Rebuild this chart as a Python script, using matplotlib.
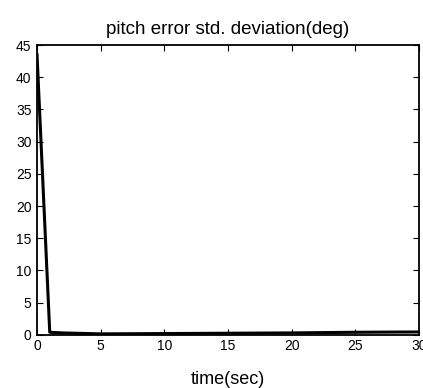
import numpy as np
import matplotlib
matplotlib.use('Agg')
import matplotlib.pyplot as plt

# 数据
time_sec = [0, 1.0, 2, 5, 10, 15, 20, 25, 30]
pitch_std = [43.5, 0.4, 0.3, 0.15, 0.2, 0.25, 0.3, 0.4, 0.45]
x_ticks = [0, 5, 10, 15, 20, 25, 30]
y_ticks = [0, 5, 10, 15, 20, 25, 30, 35, 40, 45]

plt.rcParams['font.family'] = ['Liberation Sans', 'DejaVu Sans']

fig = plt.figure(figsize=(4.23, 3.88), dpi=100)
ax = fig.add_axes([0.0875, 0.137, 0.903, 0.747])

ax.plot(time_sec, pitch_std, color='black', linewidth=2.2)

ax.set_xlim(0, 30)
ax.set_ylim(0, 45)
ax.set_xticks(x_ticks)
ax.set_yticks(y_ticks)
ax.tick_params(direction='in', top=True, right=True, length=4, labelsize=10, pad=3)
ax.tick_params(axis='y', pad=4)
for s in ax.spines.values():
    s.set_linewidth(1.3)

ax.set_title('pitch error std. deviation(deg)', fontsize=13.5, pad=8)
ax.set_xlabel('time(sec)', fontsize=13, labelpad=13)

fig.savefig('out.png', dpi=100)
